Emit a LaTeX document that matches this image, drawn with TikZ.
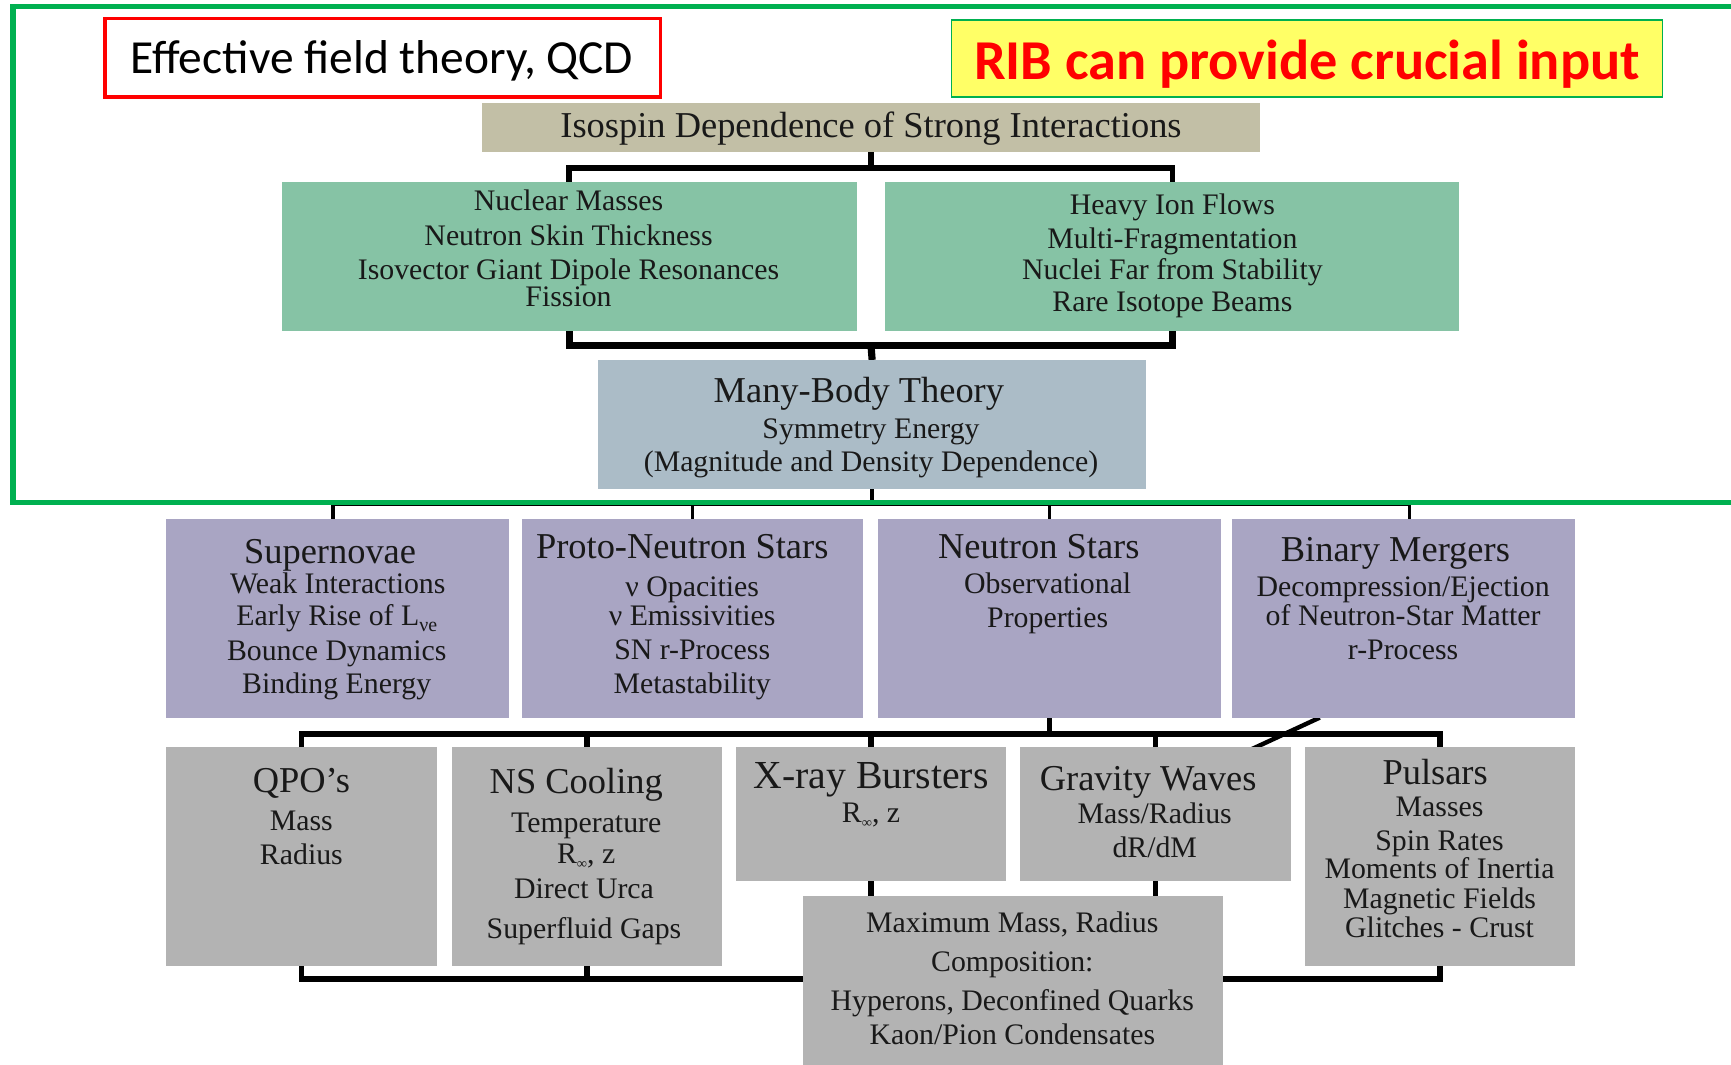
\documentclass[tikz,border=0pt]{standalone}
\usepackage{fontspec}
\setmainfont{Liberation Serif}
\newfontfamily\calib{Carlito}
\definecolor{frameg}{HTML}{00B050}
\definecolor{redc}{HTML}{FF0000}
\definecolor{yel}{HTML}{FFFF66}
\definecolor{tan}{HTML}{C2BFA6}
\definecolor{grbox}{HTML}{86C3A5}
\definecolor{mbbox}{HTML}{ABBCC7}
\definecolor{pubox}{HTML}{A9A5C3}
\definecolor{gybox}{HTML}{B3B3B3}
\tikzset{
  box/.style={inner sep=0pt, outer sep=0pt, anchor=north west, draw=none},
  tx/.style={inner sep=0pt, outer sep=0pt, anchor=base, text=black!90},
  bt/.style={tx, font=\fontsize{27}{30}\selectfont},
  ht/.style={tx, font=\fontsize{33}{36}\selectfont},
  xt/.style={tx, font=\fontsize{36}{40}\selectfont},
  conA/.style={line width=5pt, black},
  conB/.style={line width=6.5pt, black},
  conC/.style={line width=3pt, black},
  conD/.style={line width=5pt, black},
}
\newcommand\rinf{R\raisebox{-0.35ex}{\fontsize{13}{13}\selectfont ∞}, z}
\begin{document}
\begin{tikzpicture}[x=1pt,y=-1pt]
\useasboundingbox (0,0) rectangle (1568,964);
\clip (0,0) rectangle (1568,964);
% ---------- boxes ----------
\node[box, fill=tan, minimum width=704pt, minimum height=45pt] (iso) at (437,93) {};
\node[box, fill=grbox, minimum width=521pt, minimum height=135pt] (gl) at (255,165) {};
\node[box, fill=grbox, minimum width=520pt, minimum height=135pt] (gr) at (802,165) {};
\node[box, fill=mbbox, minimum width=496pt, minimum height=117pt] (mb) at (542,326) {};
\node[box, fill=pubox, minimum width=311pt, minimum height=180pt] (p1) at (150,470) {};
\node[box, fill=pubox, minimum width=309pt, minimum height=180pt] (p2) at (473,470) {};
\node[box, fill=pubox, minimum width=311pt, minimum height=180pt] (p3) at (795,470) {};
\node[box, fill=pubox, minimum width=311pt, minimum height=180pt] (p4) at (1116,470) {};
\node[box, fill=gybox, minimum width=246pt, minimum height=198pt] (q1) at (150,677) {};
\node[box, fill=gybox, minimum width=245pt, minimum height=198pt] (q2) at (409,677) {};
\node[box, fill=gybox, minimum width=244pt, minimum height=121pt] (q3) at (667,677) {};
\node[box, fill=gybox, minimum width=245pt, minimum height=121pt] (q4) at (924,677) {};
\node[box, fill=gybox, minimum width=245pt, minimum height=198pt] (q5) at (1182,677) {};
\node[box, fill=gybox, minimum width=381pt, minimum height=160pt] (mx) at (727,812) {};
% ---------- connectors ----------
\coordinate (b1) at (789,152);
\coordinate (b2) at (789,313);
\coordinate (b3) at (790,457);
\coordinate (b4) at (950,665);
\coordinate (b5) at (917,887);
\coordinate (dg) at (1133,679);
\draw[conA] (gl.north) |- (b1) -| (gr.north);
\draw[conA] (iso.south) -- (b1);
\draw[conB] (gl.south) |- (b2) -| (gr.south);
\draw[conB] (b2) -- (mb.north);
\draw[conC] ([xshift=-4pt]p1.north) |- (b3) -| ([xshift=5pt]p4.north);
\draw[conC] (p2.north) -- (p2.north |- b3);
\draw[conC] (p3.north) -- (p3.north |- b3);
\draw[conC] (mb.south) -- (b3);
\draw[conD] (q1.north) |- (b4) -| (q5.north);
\draw[conD] (q2.north) -- (q2.north |- b4);
\draw[conD] (q3.north) -- (q3.north |- b4);
\draw[conD] (q4.north) -- (q4.north |- b4);
\draw[conD] (p3.south) -- (p3.south |- b4);
\draw[conC, line width=4pt] ([xshift=-76pt]p4.south) -- (dg);
\draw[conD] (q3.south) -- (q3.south |- mx.north);
\draw[conD] (q4.south) -- (q4.south |- mx.north);
\draw[conD] (q1.south) |- (b5) -| (q5.south);
\draw[conD] (q2.south) -- (q2.south |- b5);
% ---------- refill boxes on top of connectors ----------
\fill[tan] (iso.north west) rectangle (iso.south east);
\fill[grbox] (gl.north west) rectangle (gl.south east);
\fill[grbox] (gr.north west) rectangle (gr.south east);
\fill[mbbox] (mb.north west) rectangle (mb.south east);
\foreach \n in {p1,p2,p3,p4} \fill[pubox] (\n.north west) rectangle (\n.south east);
\foreach \n in {q1,q2,q3,q4,q5,mx} \fill[gybox] (\n.north west) rectangle (\n.south east);
% ---------- header boxes ----------
\node[box, draw=redc, line width=3pt, minimum width=503pt, minimum height=71pt] (efb) at (95,17) {};
\node[tx, font=\calib\fontsize{43}{48}\selectfont, text=black] (eft) at (346,67) {Effective field theory, QCD};
\node[box, fill=yel, draw=frameg, line width=1.5pt, minimum width=644pt, minimum height=70pt] (ribb) at (862,18) {};
\node[tx, font=\calib\bfseries\fontsize{51}{56}\selectfont, text=redc] (ribt) at (1184,72) {RIB can provide crucial input};
% ---------- texts ----------
\node[ht] (isot) at (789,125) {Isospin Dependence of Strong Interactions};
\node[bt] (gl1) at (515,191) {Nuclear Masses};
\node[bt] (gl2) at (515,222) {Neutron Skin Thickness};
\node[bt] (gl3) at (515,253) {Isovector Giant Dipole Resonances};
\node[bt] (gl4) at (515,278) {Fission};
\node[bt] (gr1) at (1062,194) {Heavy Ion Flows};
\node[bt] (gr2) at (1062,225) {Multi-Fragmentation};
\node[bt] (gr3) at (1062,253) {Nuclei Far from Stability};
\node[bt] (gr4) at (1062,282) {Rare Isotope Beams};
\node[ht] (mb1) at (778,365) {Many-Body Theory};
\node[bt] (mb2) at (789,397) {Symmetry Energy};
\node[bt] (mb3) at (789,427) {(Magnitude and Density Dependence)};
\node[ht] (p1a) at (299,510) {Supernovae};
\node[bt] (p1b) at (306,538) {Weak Interactions};
\node[bt] (p1c) at (305,567) {Early Rise of L\raisebox{-0.4ex}{\fontsize{18}{18}\selectfont νe}};
\node[bt] (p1d) at (305,598) {Bounce Dynamics};
\node[bt] (p1e) at (305,628) {Binding Energy};
\node[ht] (p2a) at (618,506) {Proto-Neutron Stars};
\node[bt] (p2b) at (627,540) {ν Opacities};
\node[bt] (p2c) at (627,567) {ν Emissivities};
\node[bt] (p2d) at (627,597) {SN r-Process};
\node[bt] (p2e) at (627,628) {Metastability};
\node[ht] (p3a) at (941,506) {Neutron Stars};
\node[bt] (p3b) at (949,538) {Observational};
\node[bt] (p3c) at (949,568) {Properties};
\node[ht] (p4a) at (1264,509) {Binary Mergers};
\node[bt] (p4b) at (1271,540) {Decompression/Ejection};
\node[bt] (p4c) at (1271,567) {of Neutron-Star Matter};
\node[bt] (p4d) at (1271,597) {r-Process};
\node[ht] (q1a) at (273,718) {QPO’s};
\node[bt] (q1b) at (273,752) {Mass};
\node[bt] (q1c) at (273,783) {Radius};
\node[ht] (q2a) at (522,719) {NS Cooling};
\node[bt] (q2b) at (531,754) {Temperature};
\node[bt] (q2c) at (531,782) {\rinf};
\node[bt] (q2d) at (529,814) {Direct Urca};
\node[bt] (q2e) at (529,850) {Superfluid Gaps};
\node[xt] (q3a) at (789,714) {X-ray Bursters};
\node[bt] (q3b) at (789,745) {\rinf};
\node[ht] (q4a) at (1040,716) {Gravity Waves};
\node[bt] (q4b) at (1046,746) {Mass/Radius};
\node[bt] (q4c) at (1046,777) {dR/dM};
\node[ht] (q5a) at (1300,711) {Pulsars};
\node[bt] (q5b) at (1304,740) {Masses};
\node[bt] (q5c) at (1304,770) {Spin Rates};
\node[bt] (q5d) at (1304,796) {Moments of Inertia};
\node[bt] (q5e) at (1304,823) {Magnetic Fields};
\node[bt] (q5f) at (1304,849) {Glitches - Crust};
\node[bt] (mx1) at (917,845) {Maximum Mass, Radius};
\node[bt] (mx2) at (917,880) {Composition:};
\node[bt] (mx3) at (917,915) {Hyperons, Deconfined Quarks};
\node[bt] (mx4) at (917,946) {Kaon/Pion Condensates};
% ---------- green frame ----------
\draw[frameg, line width=5pt] (1600,6) -- (12,6) -- (12,455) -- (1600,455);
\end{tikzpicture}
\end{document}
